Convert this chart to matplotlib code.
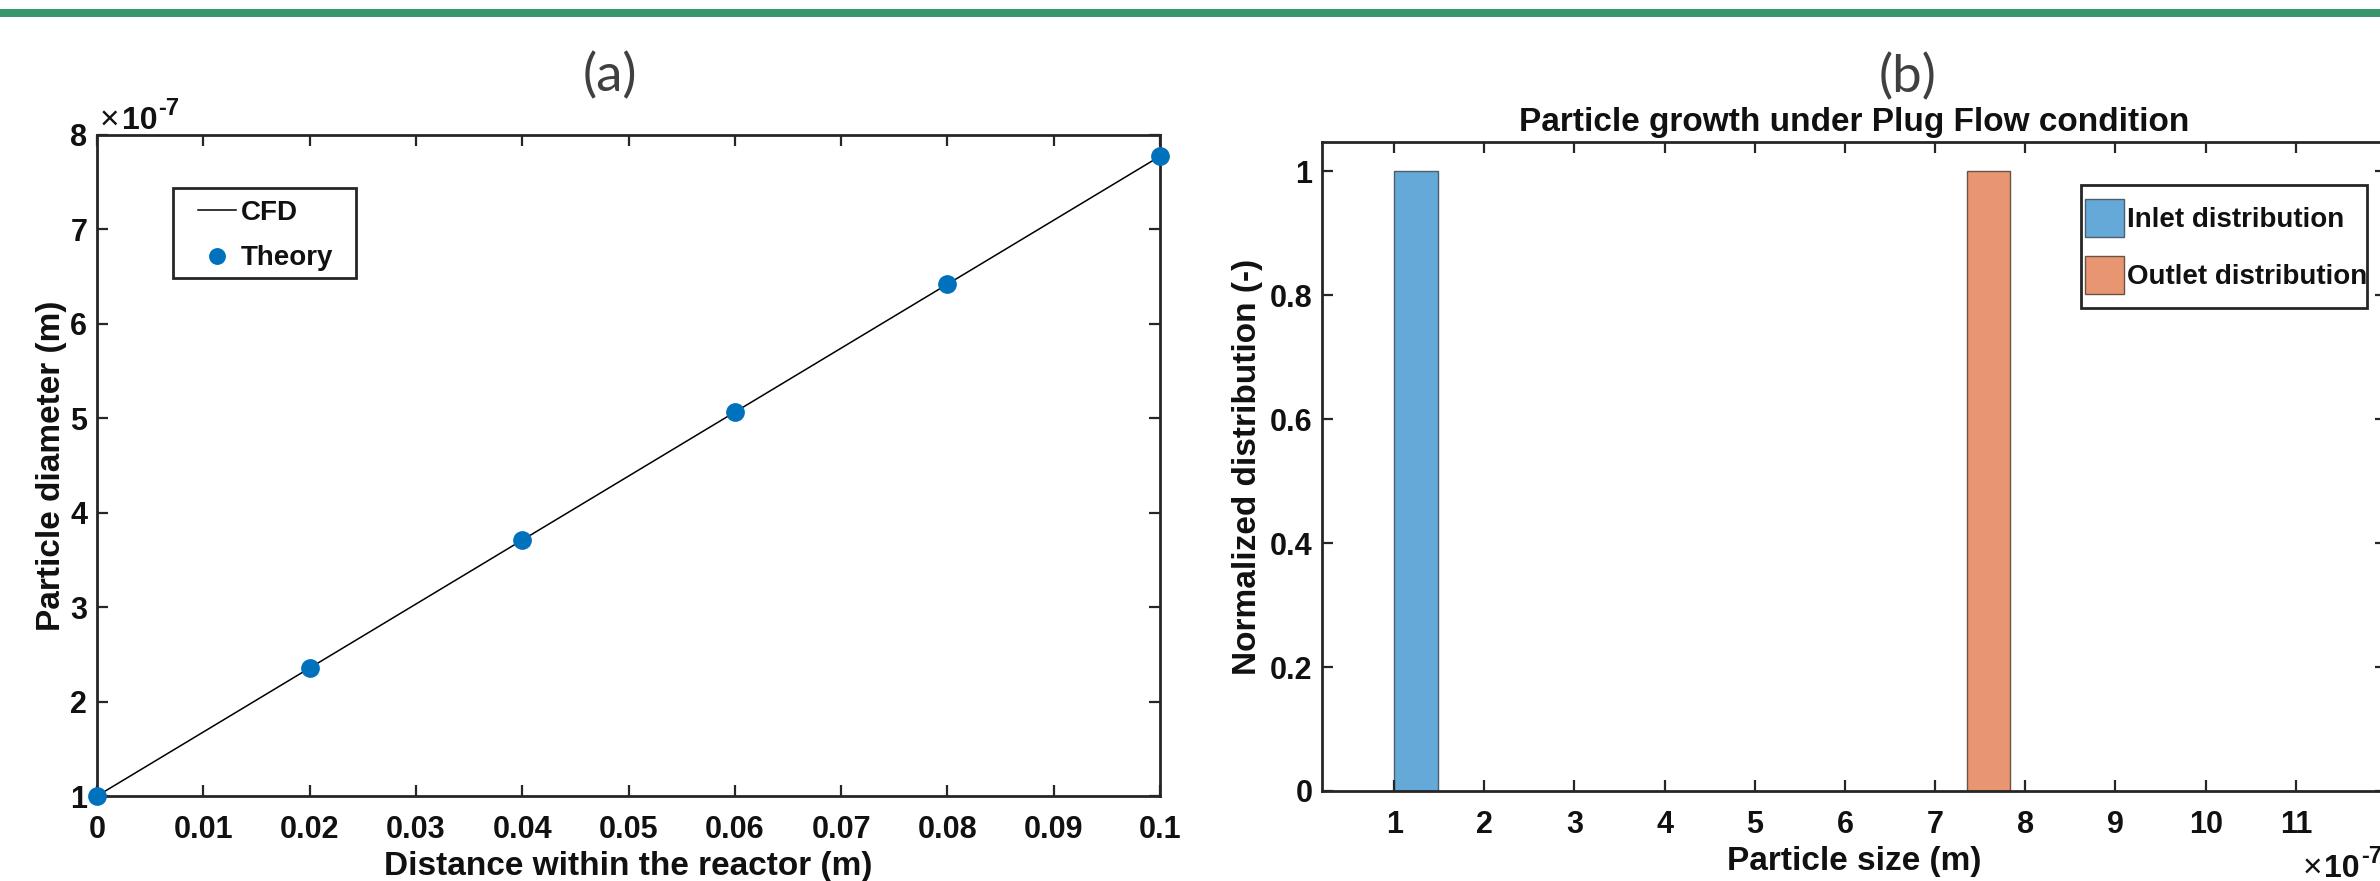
import matplotlib
matplotlib.use("Agg")
import matplotlib.pyplot as plt
from matplotlib.patches import Rectangle

# ---------------- data ----------------
# (a) particle diameter along the reactor (values in units of 1e-7 m)
distance_m = [0.0, 0.02, 0.04, 0.06, 0.08, 0.10]
theory_diameter_e7 = [1.0, 2.355, 3.71, 5.065, 6.42, 7.775]
cfd_distance_m = [0.0, 0.02, 0.04, 0.06, 0.08, 0.10]
cfd_diameter_e7 = [1.0, 2.355, 3.71, 5.065, 6.42, 7.775]
xticks_a = [0, 0.01, 0.02, 0.03, 0.04, 0.05, 0.06, 0.07, 0.08, 0.09, 0.1]
yticks_a = [1, 2, 3, 4, 5, 6, 7, 8]

# (b) normalized distribution (bin left edge, bin width in units of 1e-7 m)
inlet_left_e7 = [1.0]
inlet_width_e7 = [0.49]
inlet_value = [1.0]
outlet_left_e7 = [7.35]
outlet_width_e7 = [0.48]
outlet_value = [1.0]
xticks_b = [1, 2, 3, 4, 5, 6, 7, 8, 9, 10, 11]
yticks_b = [0, 0.2, 0.4, 0.6, 0.8, 1.0]

# ---------------- style ----------------
FONT = ["Liberation Sans", "DejaVu Sans"]
plt.rcParams["font.family"] = FONT
plt.rcParams["font.weight"] = "bold"
AX_COL = "#262626"
TXT = "#111111"
BLUE = "#0072BD"
INLET = "#64A9D8"
OUTLET = "#E89671"

W, H = 2380, 881
fig = plt.figure(figsize=(W / 100, H / 100), dpi=100)

# green band at top
fig.add_artist(Rectangle((0, 1 - 17 / H), 1, 8 / H, transform=fig.transFigure,
                         color="#35976B", lw=0, zorder=0))


def px_axes(x0, y0, x1, y1):
    return fig.add_axes([x0 / W, 1 - y1 / H, (x1 - x0) / W, (y1 - y0) / H])


def px_frame(x0, y0, x1, y1):
    fig.add_artist(Rectangle((x0 / W, 1 - y1 / H), (x1 - x0) / W, (y1 - y0) / H,
                             transform=fig.transFigure, fill=False,
                             edgecolor=AX_COL, lw=2.0, zorder=5))


def style_axes(ax):
    for s in ax.spines.values():
        s.set_linewidth(2.0)
        s.set_color(AX_COL)
    ax.tick_params(direction="in", length=8, width=1.6, colors=AX_COL,
                   labelcolor=TXT, labelsize=22, top=True, right=True)
    for lab in ax.get_xticklabels() + ax.get_yticklabels():
        lab.set_fontweight("bold")


def fmt(v):
    return "%g" % v


def exponent_label(x_px, y_px):
    """MATLAB-style 'x10^-7' label, baseline of '10' at pixel (x_px, y_px)."""
    renderer = fig.canvas.get_renderer()
    t1 = fig.text(x_px / W, 1 - y_px / H, "\u00d7", fontsize=24, fontweight="normal",
                  color=TXT, ha="left", va="baseline")
    x = t1.get_window_extent(renderer).x1 + 2
    t2 = fig.text(x / W, 1 - y_px / H, "10", fontsize=23, fontweight="bold",
                  color=TXT, ha="left", va="baseline")
    bb = t2.get_window_extent(renderer)
    fig.text((bb.x1 + 1) / W, 1 - (y_px - 14) / H, "-7", fontsize=17,
             fontweight="bold", color=TXT, ha="left", va="baseline")


# ---------------- (a) ----------------
axa = px_axes(97, 135, 1160, 796)
axa.plot(cfd_distance_m, cfd_diameter_e7, color="black", lw=1.1, label="CFD")
axa.plot(distance_m, theory_diameter_e7, "o", color=BLUE, ms=13.5, mew=0,
         label="Theory", clip_on=False, zorder=5)
axa.set_xlim(0, 0.1)
axa.set_ylim(1, 8)
axa.set_xticks(xticks_a)
axa.set_xticklabels([fmt(v) for v in xticks_a])
axa.set_yticks(yticks_a)
axa.set_yticklabels([fmt(v) for v in yticks_a])
style_axes(axa)
axa.tick_params(axis="x", pad=14)
axa.tick_params(axis="y", pad=7)
axa.set_xlabel("Distance within the reactor (m)", fontsize=24, fontweight="bold",
               labelpad=4, color=TXT)
axa.set_ylabel("Particle diameter (m)", fontsize=24, fontweight="bold", labelpad=2,
               color=TXT)
leg_a = axa.legend(loc="upper left", bbox_to_anchor=(198 / W, 1 - 200 / H),
                   bbox_transform=fig.transFigure, fontsize=20, frameon=False,
                   handlelength=1.35, handletextpad=0.18, borderpad=0.0,
                   labelspacing=0.7, borderaxespad=0, markerscale=0.9)
for t in leg_a.get_texts():
    t.set_fontweight("bold")
    t.set_color(TXT)
px_frame(173, 188, 356, 278)

fig.text(610 / W, 1 - 76 / H, "(a)", fontsize=38, family=["Lato", "DejaVu Sans"],
         fontweight="normal", color="#404040", ha="center", va="center")

# ---------------- (b) ----------------
axb = px_axes(1322, 142, 2386, 791)
axb.bar(inlet_left_e7, inlet_value, width=inlet_width_e7, align="edge",
        color=INLET, edgecolor="#4d5d6b", linewidth=1.0, label="Inlet distribution")
axb.bar(outlet_left_e7, outlet_value, width=outlet_width_e7, align="edge",
        color=OUTLET, edgecolor="#6a5246", linewidth=1.0, label="Outlet distribution")
axb.set_xlim(0.2, 12)
axb.set_ylim(0, 1.047)
axb.set_xticks(xticks_b)
axb.set_xticklabels([fmt(v) for v in xticks_b])
axb.set_yticks(yticks_b)
axb.set_yticklabels([fmt(v) for v in yticks_b])
style_axes(axb)
axb.tick_params(axis="x", pad=14)
axb.tick_params(axis="y", pad=7)
axb.set_xlabel("Particle size (m)", fontsize=24, fontweight="bold", labelpad=4,
               color=TXT)
axb.set_ylabel("Normalized distribution (-)", fontsize=24, fontweight="bold",
               labelpad=5, color=TXT)
axb.set_title("Particle growth under Plug Flow condition", fontsize=24,
              fontweight="bold", pad=8, color=TXT)
leg_b = axb.legend(loc="upper left", bbox_to_anchor=(2085 / W, 1 - 199 / H),
                   bbox_transform=fig.transFigure, fontsize=20, frameon=False,
                   handlelength=1.4, handleheight=1.72, handletextpad=0.1,
                   borderpad=0.0, labelspacing=0.69, borderaxespad=0)
for t in leg_b.get_texts():
    t.set_fontweight("bold")
    t.set_color(TXT)
px_frame(2081, 185, 2367, 308)

fig.text(1908 / W, 1 - 77 / H, "(b)", fontsize=38, family=["Lato", "DejaVu Sans"],
         fontweight="normal", color="#404040", ha="center", va="center")

# exponent labels (MATLAB style)
exponent_label(100, 129)
exponent_label(2303, 877)

fig.savefig("out.png", dpi=100)
